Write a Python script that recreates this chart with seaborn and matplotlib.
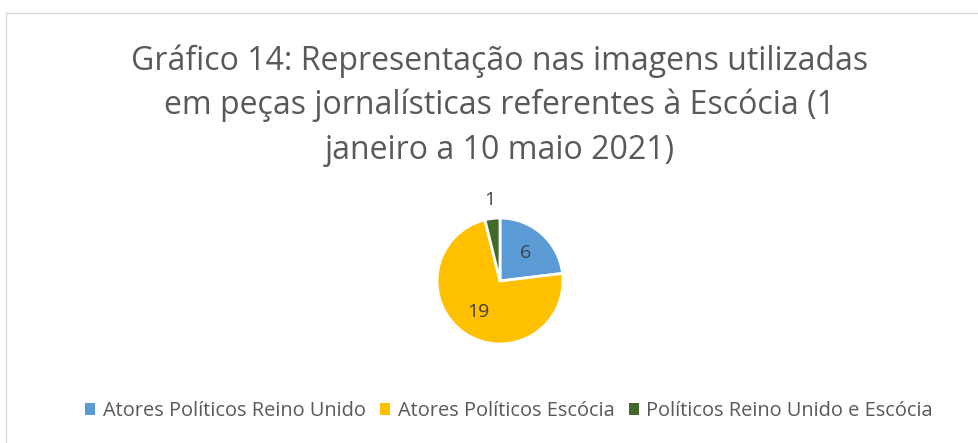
import matplotlib
matplotlib.use("Agg")
import matplotlib.pyplot as plt
import seaborn as sns
import numpy as np
from matplotlib.patches import Rectangle, Patch

categories = ["Atores Políticos Reino Unido", "Atores Políticos Escócia", "Políticos Reino Unido e Escócia"]
values = [6, 19, 1]
colors = ["#5B9BD5", "#FFC000", "#43682B"]
title = "Gráfico 14: Representação nas imagens utilizadas\nem peças jornalísticas referentes à Escócia (1\njaneiro a 10 maio 2021)"

sns.set_theme(style="white")
plt.rcParams['font.family'] = ['Open Sans', 'DejaVu Sans']

W, H = 979, 443
fig = plt.figure(figsize=(W / 100, H / 100), dpi=100)
fig.patch.set_facecolor("white")

# chart border
fig.add_artist(Rectangle((6 / W, -0.05), 1.1, 1 - 13 / H + 0.05, transform=fig.transFigure,
                         fill=False, edgecolor="#D9D9D9", linewidth=1))

cx, cy, R = 500, 281, 63
side = R * 3
ax = fig.add_axes([(cx - side / 2) / W, (H - cy - side / 2) / H, side / W, side / H])
wedges, _ = ax.pie(values, colors=colors, startangle=90, counterclock=False,
                   radius=1, wedgeprops=dict(edgecolor="white", linewidth=2))
ax.set_xlim(-1.5, 1.5)
ax.set_ylim(-1.5, 1.5)
ax.set_aspect("equal")
ax.axis("off")

dists = [0.6, 0.6, 1.3]
for w, v, d in zip(wedges, values, dists):
    ang = np.deg2rad((w.theta1 + w.theta2) / 2)
    ax.text(d * np.cos(ang), d * np.sin(ang), str(v), ha="center", va="center",
            fontsize=14, color="#404040")

fig.text(cx / W, 1 - 44 / H, title, ha="center", va="top", fontsize=23,
         color="#595959", linespacing=1.45)

handles = [Patch(facecolor=c, edgecolor="none") for c in colors]
fig.legend(handles, categories, loc="center", bbox_to_anchor=(509 / W, 1 - 411 / H), ncol=3,
           frameon=False, fontsize=14.4, handlelength=0.5, handleheight=0.5,
           handletextpad=0.4, columnspacing=0.7, labelcolor="#595959")

fig.savefig("out.png", dpi=100, facecolor="white")
